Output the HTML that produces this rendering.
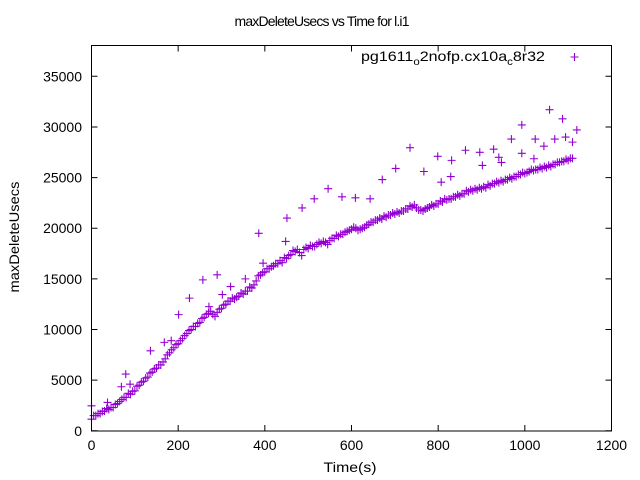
<!DOCTYPE html>
<html><head><meta charset="utf-8"><style>
html,body{margin:0;padding:0;background:#fff;}
svg{display:block;font-family:"Liberation Sans",Arial,sans-serif;}
</style></head><body>
<svg id="chart" width="640" height="480" viewBox="0 0 640 480" xmlns="http://www.w3.org/2000/svg">
<rect x="0" y="0" width="640" height="480" fill="#fff"/>
<text x="322" y="26" font-size="14" text-anchor="middle" textLength="175" lengthAdjust="spacing">maxDeleteUsecs vs Time for l.i1</text>
<text transform="translate(19,237) rotate(-90)" font-size="14" text-anchor="middle" textLength="111" lengthAdjust="spacingAndGlyphs">maxDeleteUsecs</text>
<text x="350" y="472" font-size="14" text-anchor="middle" textLength="53" lengthAdjust="spacingAndGlyphs">Time(s)</text>
<g id="axes"></g>
<g id="marks"></g>
<g>
<text x="361" y="61" font-size="14" textLength="184" lengthAdjust="spacingAndGlyphs">pg1611<tspan font-size="10" dy="4">o</tspan><tspan dy="-4">2nofp.cx10a</tspan><tspan font-size="10" dy="4">c</tspan><tspan dy="-4">8r32</tspan></text>
<path d="M570.5 57h8M574.5 53v8" stroke="#9400d3" stroke-width="1.1"/>
</g>
<rect x="91.5" y="45.5" width="520" height="385.5" fill="none" stroke="#000" stroke-width="1"/>
</svg>
<script>
const xTicks = [0,200,400,600,800,1000,1200];
const yTicks = [0,5000,10000,15000,20000,25000,30000,35000];
const mainTimes = [0,10,20,30,40,50,60,70,80,90,100,110,120,130,140,150,160,170,180,190,200,210,220,230,240,250,260,270,280,290,300,310,320,330,340,350,360,370,380,390,400,410,420,430,440,450,460,470,480,490,500,510,520,530,540,550,560,570,580,590,600,610,620,630,640,650,660,670,680,690,700,710,720,730,740,750,760,770,780,790,800,810,820,830,840,850,860,870,880,890,900,910,920,930,940,950,960,970,980,990,1000,1010,1020,1030,1040,1050,1060,1070,1080,1090,1100,1110];
const mainValues = [1150,1500,1700,1950,2100,2300,2700,3100,3300,3600,3950,4500,4900,5300,5800,6200,6500,7100,7700,8200,8600,9100,9600,10000,10300,10700,11200,11600,11500,11700,12100,12500,12800,13000,13300,13500,13800,14100,14800,15400,15700,16000,16300,16500,16600,17000,17400,17700,17600,17900,18000,18200,18400,18500,18600,18800,19000,19200,19400,19700,19900,20000,19900,20100,20400,20600,20800,20900,21100,21300,21400,21500,21700,21900,22100,22000,21800,21900,22100,22200,22400,22600,22800,22900,23100,23200,23400,23600,23700,23800,23900,24000,24200,24400,24500,24600,24800,24900,25100,25300,25400,25600,25700,25800,25900,26000,26100,26300,26500,26600,26700,26900];
const midTimes = [5,15,25,35,45,55,65,75,85,95,105,115,125,135,145,155,165,175,185,195,205,215,225,235,245,255,265,275,285,295,305,315,325,335,345,355,365,375,385,395,405,415,425,435,445,455,465,475,485,495,505,515,525,535,545,555,565,575,585,595,605,615,625,635,645,655,665,675,685,695,705,715,725,735,745,755,765,775,785,795,805,815,825,835,845,855,865,875,885,895,905,915,925,935,945,955,965,975,985,995,1005,1015,1025,1035,1045,1055,1065,1075,1085,1095,1105];
const midValues = [1500,1700,1900,2200,2300,2600,2900,3300,3700,3900,4400,4800,5200,5700,6100,6500,6800,7500,8000,8500,8900,9400,9900,10300,10600,11100,11500,11800,11300,12000,12400,12800,13100,13200,13600,13800,14200,14400,15300,15600,16000,16200,16500,16800,17100,17300,17800,17900,17300,18100,18300,18200,18600,18700,18400,19000,19300,19400,19600,19800,20100,19800,20000,20300,20600,20800,21000,21200,21300,21500,21600,21700,21900,22200,22300,21800,21700,22000,22300,22400,22700,22900,22900,23100,23300,23400,23700,23800,23900,24000,24100,24300,24400,24600,24700,24800,25000,25100,25300,25500,25500,25800,25800,26000,26100,26200,26300,26500,26600,26800,26900];
const outlierTimes = [0,37,79,69,89,136,168,184,201,226,257,271,290,302,321,355,386,396,451,448,486,514,546,578,609,643,671,702,735,767,799,831,863,896,928,940,969,993,993,1024,1044,1057,1069,1087,1094,1110,1120,807,829,902,946,1021];
const outlierValues = [2470,2800,5600,4350,4600,7900,8730,8900,11470,13100,14900,12260,15400,13450,14240,15000,19500,16550,21000,18700,22000,22900,23900,23100,23000,22900,24800,25900,27950,25600,27100,26700,27700,27500,27800,27000,28800,27400,30200,28800,28100,31700,28800,30800,29000,28500,29700,24550,25100,26200,26500,26860];

const NS = "http://www.w3.org/2000/svg";
function xPos(t){ return 91.5 + t/1200*520; }
function yPos(v){ return 430.8 - v/35000*354.5; }
const axes = document.getElementById('axes');
const marks = document.getElementById('marks');
function mk(tag, attrs, parent){ const e=document.createElementNS(NS,tag); for(const k in attrs) e.setAttribute(k,attrs[k]); parent.appendChild(e); return e; }

xTicks.forEach(function(t){
  const x = xPos(t);
  const tk = mk('path',{d:'M'+x+' 431v-6M'+x+' 45.5v6',stroke:'#000','stroke-width':1},axes);
  
  
  const lb = mk('text',{x:x,y:450,'font-size':14,'text-anchor':'middle'},axes);
  
  
  lb.textContent = String(t);
});
yTicks.forEach(function(v){
  const y = yPos(v);
  const tk = mk('path',{d:'M91.5 '+y+'h6M611.5 '+y+'h-6',stroke:'#000','stroke-width':1},axes);
  
  
  const lb = mk('text',{x:82,y:y+5,'font-size':14,'text-anchor':'end'},axes);
  
  
  lb.textContent = String(v);
});
function plus(t,v,name){
  const x=xPos(t), y=yPos(v);
  const p = mk('path',{d:'M'+(x-4)+' '+y+'h8M'+x+' '+(y-4)+'v8',stroke:'#9400d3','stroke-width':1.1},marks);
  
  
}
mainTimes.forEach(function(t,i){ plus(t, mainValues[i], 'data-point'); });
midTimes.forEach(function(t,i){ plus(t, midValues[i], 'data-point'); });
outlierTimes.forEach(function(t,i){ plus(t, outlierValues[i], 'outlier-point'); });
</script>
</body></html>
